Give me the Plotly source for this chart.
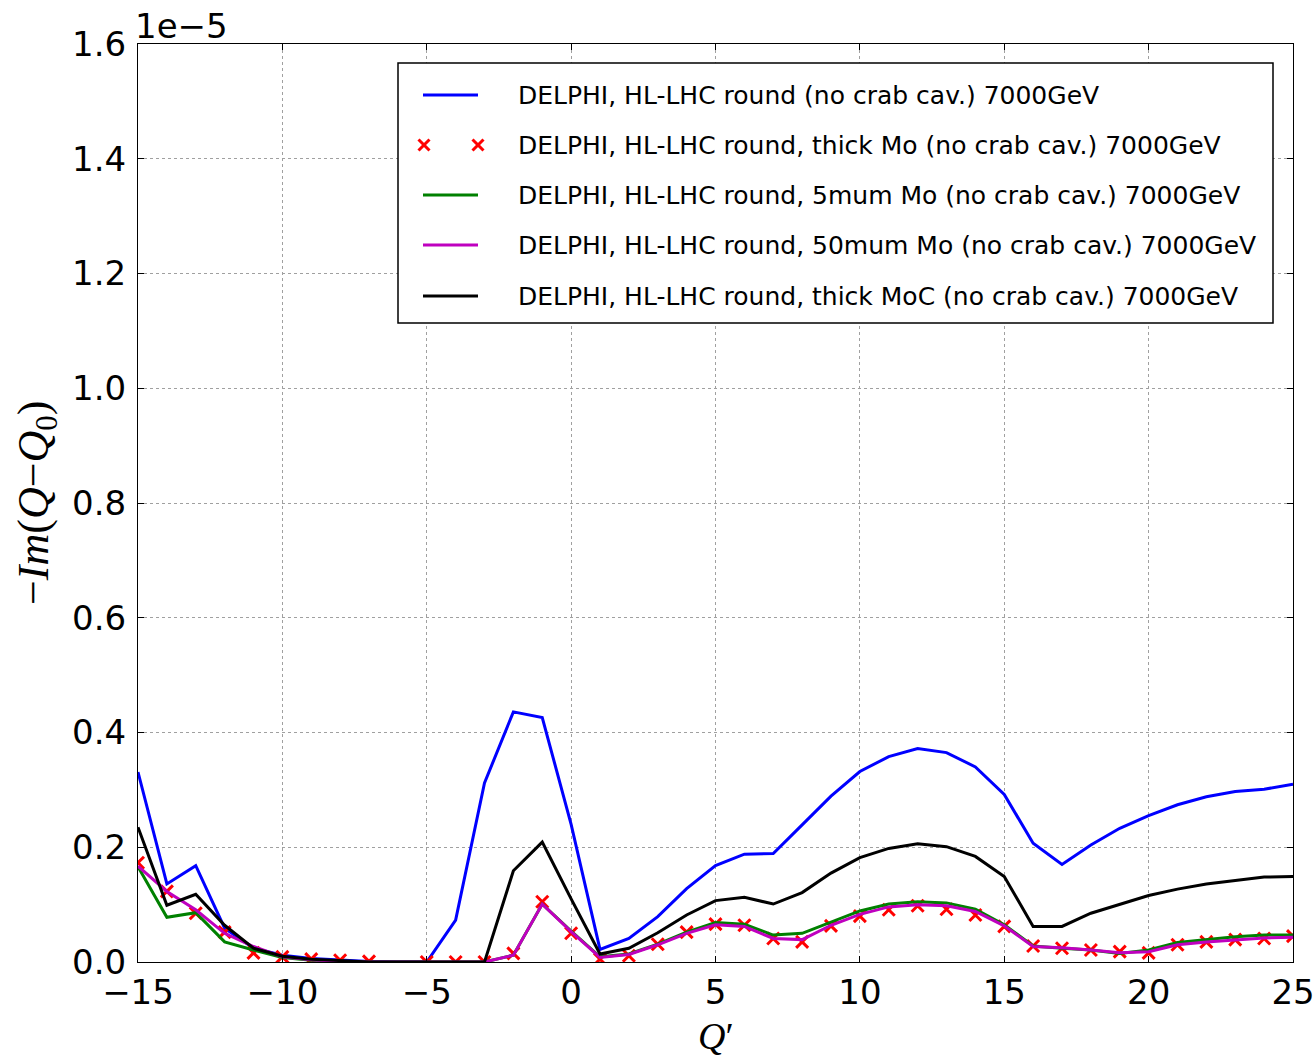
import numpy as np
import plotly.graph_objects as go

# Chromaticity scan Q' and growth rates, -Im(Q-Q0), in units of 1e-5
q_prime = list(range(-15, 26))
SCALE = 1e-5

im_round = [0.331, 0.136, 0.168, 0.059, 0.024, 0.012, 0.006, 0.003, 0.001, 0.0,
            0.0, 0.073, 0.312, 0.436, 0.426, 0.240, 0.022, 0.041, 0.079, 0.128,
            0.168, 0.188, 0.189, 0.239, 0.289, 0.332, 0.358, 0.372, 0.365, 0.340,
            0.292, 0.207, 0.170, 0.204, 0.233, 0.255, 0.274, 0.288, 0.297, 0.301, 0.310]

im_thick_mo = [0.173, 0.123, 0.085, 0.052, 0.016, 0.009, 0.005, 0.003, 0.001, None,
               0.0, 0.0, 0.0, 0.015, 0.105, 0.050, 0.005, 0.011, 0.031, 0.052,
               0.066, 0.064, 0.041, 0.035, 0.063, 0.080, 0.091, 0.098, 0.092, 0.082,
               0.062, 0.028, 0.024, 0.021, 0.018, 0.016, 0.030, 0.035, 0.039, 0.041, 0.045]

im_5um_mo = [0.166, 0.078, 0.086, 0.035, 0.021, 0.008, 0.003, 0.001, 0.0, 0.0,
             0.0, 0.0, 0.0, 0.012, 0.101, 0.054, 0.009, 0.014, 0.031, 0.052,
             0.069, 0.066, 0.047, 0.050, 0.070, 0.089, 0.101, 0.105, 0.103, 0.092,
             0.065, 0.028, 0.024, 0.021, 0.015, 0.021, 0.034, 0.039, 0.044, 0.047, 0.047]

im_50um_mo = [0.167, 0.123, 0.091, 0.050, 0.027, 0.009, 0.004, 0.001, 0.0, 0.0,
              0.0, 0.0, 0.0, 0.012, 0.101, 0.053, 0.008, 0.013, 0.030, 0.050,
              0.065, 0.062, 0.041, 0.039, 0.064, 0.083, 0.096, 0.100, 0.098, 0.088,
              0.063, 0.027, 0.025, 0.021, 0.016, 0.018, 0.030, 0.035, 0.039, 0.042, 0.043]

im_thick_moc = [0.235, 0.099, 0.118, 0.064, 0.024, 0.010, 0.005, 0.002, 0.0, 0.0,
                0.0, 0.0, 0.0, 0.159, 0.209, 0.110, 0.014, 0.024, 0.051, 0.082,
                0.107, 0.113, 0.101, 0.121, 0.155, 0.182, 0.198, 0.206, 0.201, 0.184,
                0.149, 0.062, 0.062, 0.085, 0.101, 0.116, 0.127, 0.136, 0.142, 0.148, 0.149]

series_names = [
    "DELPHI, HL-LHC round (no crab cav.) 7000GeV",
    "DELPHI, HL-LHC round, thick Mo (no crab cav.) 7000GeV",
    "DELPHI, HL-LHC round, 5mum Mo (no crab cav.) 7000GeV",
    "DELPHI, HL-LHC round, 50mum Mo (no crab cav.) 7000GeV",
    "DELPHI, HL-LHC round, thick MoC (no crab cav.) 7000GeV",
]

x_ticks = [-15, -10, -5, 0, 5, 10, 15, 20, 25]
x_ticktext = ["\u221215", "\u221210", "\u22125", "0", "5", "10", "15", "20", "25"]
y_ticks = [0.0, 0.2, 0.4, 0.6, 0.8, 1.0, 1.2, 1.4, 1.6]
y_ticktext = ["0.0", "0.2", "0.4", "0.6", "0.8", "1.0", "1.2", "1.4", "1.6"]


def scaled(values):
    return [None if v is None else v * SCALE for v in values]


W, H = 1316, 1057
PL, PR, PT, PB = 138, 1293, 44, 962


def px(x):
    return (x - PL) / (PR - PL)


def py(y):
    return (PB - y) / (PB - PT)


BLUE, RED, GREEN, MAGENTA, BLACK = "#0000ff", "#ff0000", "#008000", "#bf00bf", "#000000"
SANS = "DejaVu Sans"
SERIF = "Liberation Serif"

fig = go.Figure()
fig.add_trace(go.Scatter(x=q_prime, y=scaled(im_round), mode="lines",
                         line=dict(color=BLUE, width=3), name=series_names[0]))
fig.add_trace(go.Scatter(x=q_prime, y=scaled(im_thick_mo), mode="markers",
                         marker=dict(symbol="x-thin", size=12,
                                     line=dict(color=RED, width=3), color=RED),
                         name=series_names[1]))
fig.add_trace(go.Scatter(x=q_prime, y=scaled(im_5um_mo), mode="lines",
                         line=dict(color=GREEN, width=3), name=series_names[2]))
fig.add_trace(go.Scatter(x=q_prime, y=scaled(im_50um_mo), mode="lines",
                         line=dict(color=MAGENTA, width=3), name=series_names[3]))
fig.add_trace(go.Scatter(x=q_prime, y=scaled(im_thick_moc), mode="lines",
                         line=dict(color=BLACK, width=3), name=series_names[4]))

axis_common = dict(
    showline=True, linecolor="black", linewidth=1, mirror="allticks",
    ticks="inside", ticklen=6, tickwidth=1, tickcolor="black",
    showgrid=True, gridcolor="#a0a0a0", gridwidth=1, griddash="dot",
    zeroline=False, automargin=False,
    tickfont=dict(family=SANS, size=34, color="black"),
)

fig.update_xaxes(range=[-15, 25], tickmode="array", tickvals=x_ticks,
                 ticktext=x_ticktext, **axis_common)
fig.update_yaxes(range=[0, 1.6 * SCALE], tickmode="array",
                 tickvals=[v * SCALE for v in y_ticks], ticktext=y_ticktext,
                 ticklabelstandoff=4, **axis_common)

shapes = []
annotations = []

# legend frame
shapes.append(dict(type="rect", xref="paper", yref="paper",
                   x0=px(398), x1=px(1273), y0=py(323), y1=py(63),
                   line=dict(color="black", width=1.5), fillcolor="white", layer="above"))

rows = [95, 145, 195, 245, 296]
line_colors = [BLUE, None, GREEN, MAGENTA, BLACK]
for row, color, label in zip(rows, line_colors, series_names):
    if color is not None:
        shapes.append(dict(type="line", xref="paper", yref="paper",
                           x0=px(423), x1=px(478), y0=py(row), y1=py(row),
                           line=dict(color=color, width=3), layer="above"))
    else:
        for cx in (424, 478):
            h = 5.5
            shapes.append(dict(type="line", xref="paper", yref="paper",
                               x0=px(cx - h), x1=px(cx + h), y0=py(row - h), y1=py(row + h),
                               line=dict(color=RED, width=3), layer="above"))
            shapes.append(dict(type="line", xref="paper", yref="paper",
                               x0=px(cx - h), x1=px(cx + h), y0=py(row + h), y1=py(row - h),
                               line=dict(color=RED, width=3), layer="above"))
    annotations.append(dict(xref="paper", yref="paper", x=px(516), y=py(row),
                            xanchor="left", yanchor="middle", showarrow=False,
                            text=label, font=dict(family=SANS, size=25, color="black")))

# axis titles and offset label
annotations.append(dict(xref="paper", yref="paper", x=px(716), y=py(1036),
                        xanchor="center", yanchor="middle", showarrow=False,
                        text="<i>Q</i>\u2032", font=dict(family=SERIF, size=38, color="black")))
annotations.append(dict(xref="paper", yref="paper", x=px(36), y=py(503),
                        xanchor="center", yanchor="middle", showarrow=False, textangle=-90,
                        text="\u2212<i>Im</i>(<i>Q</i>\u2212<i>Q</i><sub>0</sub>)",
                        font=dict(family=SERIF, size=44, color="black")))
annotations.append(dict(xref="paper", yref="paper", x=px(133), y=py(26),
                        xanchor="left", yanchor="middle", showarrow=False,
                        text="1e\u22125", font=dict(family=SANS, size=34, color="black")))

fig.update_layout(
    autosize=False,
    width=W, height=H,
    margin=dict(l=PL, r=W - PR, t=PT, b=H - PB, pad=0),
    paper_bgcolor="white", plot_bgcolor="white",
    showlegend=False,
    shapes=shapes, annotations=annotations,
)

fig.write_html("out.html", config={"responsive": False},
               default_width="1316px", default_height="1057px")
